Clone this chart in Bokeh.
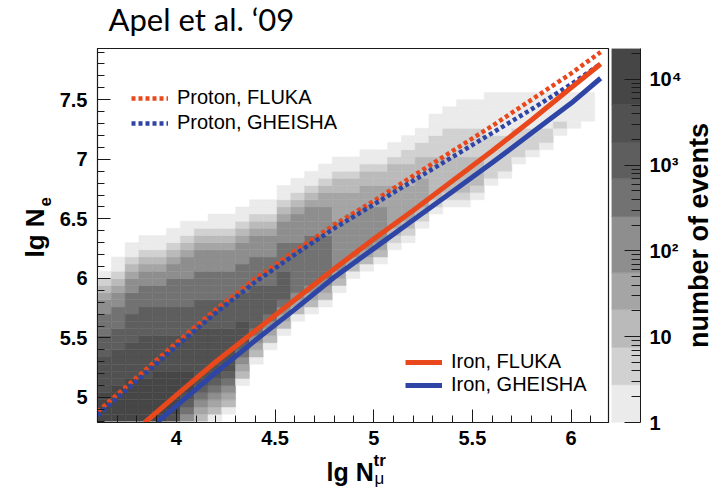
from bokeh.plotting import figure
from bokeh.layouts import row, column
from bokeh.models import (ColumnDataSource, LinearColorMapper, Legend, LegendItem, Title,
                          FixedTicker, Range1d, SingleIntervalTicker, NumeralTickFormatter,
                          CustomJSTickFormatter)
from bokeh.transform import transform
from bokeh.embed import file_html
from bokeh.resources import INLINE

# ---------------- data ----------------
# 2D histogram binning (lg N_mu^tr columns, lg N_e rows)
x_start, x_width = 3.60, 0.07
y_start, y_width = 4.80, 0.06
# each column: (first filled row, band level per row from bottom; 0 = empty, 1..9 = colour band)
hist_columns = [
    (0, "999988888777666554321"),
    (0, "99999888887776665543211"),
    (0, "9999998888877776665543211"),
    (0, "99999988888877776665543211"),
    (0, "99999998888877776665543211"),
    (0, "899999988888777766665543211"),
    (0, "5678999888887777666655543211"),
    (0, "3456788888888777766665554321"),
    (0, "13456788888887777666655543211"),
    (1, "1345678888887777666655543211"),
    (5, "1345678887777666655543211"),
    (8, "13456777777666655543211"),
    (10, "134567777666655543211"),
    (12, "134567777666655543211"),
    (14, "13456666666555543211"),
    (15, "13456666666555543211"),
    (16, "13456666665555443211"),
    (18, "1345555555444433211"),
    (20, "13455555544433211"),
    (21, "13455555544433211"),
    (22, "1345555544433211"),
    (24, "123444444333211"),
    (25, "123444443332211"),
    (27, "12344443332211"),
    (29, "12333333222111"),
    (30, "12333332222111"),
    (30, "123333322221111"),
    (31, "12333322221111"),
    (33, "1222222111111"),
    (34, "122222111111"),
    (36, "1222211111"),
    (37, "122211111"),
    (38, "12211111"),
    (40, "121111"),
    (41, "11111"),
    (42, "1111"),
]
# number-of-events bands of the colour scale (edges) and their grey shades
band_edges = [1, 2.75, 7.5, 20.7, 55.6, 251, 692, 1862, 5070, 22900]
band_colors = ["#ebebeb", "#d1d1d1", "#bababa", "#a5a5a5", "#8e8e8e",
               "#727272", "#5e5e5e", "#515151", "#464646"]
cbar_major = [1, 10, 100, 1000, 10000]
cbar_labels = {"1": "1", "10": "10", "100": "10\u00b2", "1000": "10\u00b3", "10000": "10\u2074"}

proton_fluka_x = [3.60, 3.80, 4.00, 4.20, 4.40, 4.60, 4.80, 5.00, 5.20, 5.40, 5.60, 5.80, 6.00, 6.15]
proton_fluka_y = [4.88, 5.17, 5.46, 5.74, 6.00, 6.23, 6.45, 6.65, 6.86, 7.07, 7.28, 7.50, 7.72, 7.90]
proton_gheisha_x = [3.60, 3.80, 4.00, 4.20, 4.40, 4.60, 4.80, 5.00, 5.20, 5.40, 5.60, 5.80, 6.00, 6.15]
proton_gheisha_y = [4.85, 5.14, 5.43, 5.71, 5.97, 6.20, 6.42, 6.62, 6.82, 7.02, 7.22, 7.42, 7.63, 7.80]
iron_fluka_x = [3.84, 4.00, 4.20, 4.40, 4.60, 4.80, 5.00, 5.20, 5.40, 5.60, 5.80, 6.00, 6.15]
iron_fluka_y = [4.79, 5.02, 5.30, 5.56, 5.82, 6.08, 6.33, 6.57, 6.82, 7.07, 7.33, 7.60, 7.80]
iron_gheisha_x = [3.90, 4.00, 4.20, 4.40, 4.60, 4.80, 5.00, 5.20, 5.40, 5.60, 5.80, 6.00, 6.15]
iron_gheisha_y = [4.79, 4.93, 5.21, 5.48, 5.74, 6.01, 6.25, 6.49, 6.73, 6.97, 7.22, 7.47, 7.68]

ORANGE = "#e9481c"
BLUE = "#2f45a6"
FONT = "Liberation Sans"
TOP_H = 40          # height of the strip that carries the page title
FIG_H = 496 - TOP_H

# ---------------- histogram cells ----------------
left, right, bottom, top, lvl = [], [], [], [], []
for c, (r0, s) in enumerate(hist_columns):
    for i, ch in enumerate(s):
        k = int(ch)
        if k == 0:
            continue
        r = r0 + i
        left.append(x_start + c * x_width)
        right.append(x_start + (c + 1) * x_width)
        bottom.append(y_start + r * y_width)
        top.append(y_start + (r + 1) * y_width)
        lvl.append(k)
hsrc = ColumnDataSource(dict(left=left, right=right, bottom=bottom, top=top, lvl=lvl))
mapper = LinearColorMapper(palette=band_colors, low=0.5, high=len(band_colors) + 0.5)

def bare(fig):
    fig.axis.visible = False
    fig.grid.visible = False
    fig.outline_line_color = None

# ---------------- title strip ----------------
tt = figure(width=714, height=TOP_H, x_range=Range1d(0, 1), y_range=Range1d(0, 1),
            title="Apel et al. \u201809", title_location="below",
            output_backend="svg", toolbar_location=None,
            min_border_left=97, min_border_right=0, min_border_top=0, min_border_bottom=TOP_H - 1,
            background_fill_color="white", border_fill_color="white")
bare(tt)
tt.title.align = "left"
tt.title.offset = 11
tt.title.vertical_align = "top"
tt.title.standoff = -3.2
tt.title.text_font = "Lato"
tt.title.text_font_size = "31px"
tt.title.text_font_style = "normal"
tt.title.text_color = "black"

# ---------------- main figure ----------------
p = figure(width=610, height=FIG_H, x_range=Range1d(3.6, 6.19), y_range=Range1d(4.79, 7.93),
           output_backend="svg", toolbar_location=None,
           min_border_left=97, min_border_right=2, min_border_top=48 - TOP_H, min_border_bottom=74,
           background_fill_color="white", border_fill_color="white")
p.grid.visible = False
p.outline_line_color = "#1a1a1a"
p.outline_line_width = 1.2

p.quad(source=hsrc, left="left", right="right", bottom="bottom", top="top",
       fill_color=transform("lvl", mapper), line_color=transform("lvl", mapper), line_width=0.5)

r_pf = p.line(proton_fluka_x, proton_fluka_y, line_color=ORANGE, line_width=4.5, line_dash="4 3")
r_pg = p.line(proton_gheisha_x, proton_gheisha_y, line_color=BLUE, line_width=4.5, line_dash="4 3")
r_if = p.line(iron_fluka_x, iron_fluka_y, line_color=ORANGE, line_width=5)
r_ig = p.line(iron_gheisha_x, iron_gheisha_y, line_color=BLUE, line_width=5)

for ax in (p.xaxis[0], p.yaxis[0]):
    ax.ticker = SingleIntervalTicker(interval=0.5, num_minor_ticks=5)
    ax.formatter = NumeralTickFormatter(format="0.[0]")
    ax.major_tick_in = 13
    ax.major_tick_out = 0
    ax.minor_tick_in = 7
    ax.minor_tick_out = 0
    ax.axis_line_color = "#1a1a1a"
    ax.major_tick_line_color = "#1a1a1a"
    ax.minor_tick_line_color = "#1a1a1a"
    ax.major_label_text_font = FONT
    ax.major_label_text_font_style = "bold"
    ax.major_label_text_font_size = "20px"
    ax.major_label_text_color = "black"
p.xaxis.major_label_standoff = 8
p.yaxis.major_label_standoff = 10

leg1 = Legend(items=[LegendItem(label="Proton, FLUKA", renderers=[r_pf]),
                     LegendItem(label="Proton, GHEISHA", renderers=[r_pg])],
              location=(34, 288))
leg2 = Legend(items=[LegendItem(label="Iron, FLUKA", renderers=[r_if]),
                     LegendItem(label="Iron, GHEISHA", renderers=[r_ig])],
              location=(308, 26))
for lg, sp in ((leg1, 2), (leg2, 0)):
    lg.label_text_font = FONT
    lg.label_text_font_size = "20px"
    lg.label_text_color = "black"
    lg.glyph_width = 37
    lg.glyph_height = 20
    lg.label_height = 20
    lg.label_standoff = 9
    lg.spacing = sp
    lg.padding = 0
    lg.margin = 0
    lg.background_fill_alpha = 0
    lg.border_line_alpha = 0
    p.add_layout(lg)

def side_title(fig, side, text, offset, size, valign, standoff, style="bold", align="left"):
    fig.add_layout(Title(text=text, align=align, offset=offset, vertical_align=valign,
                         standoff=standoff, text_font=FONT, text_font_size=size,
                         text_font_style=style, text_color="black"), side)

# y axis title: lg N_e  (subscript panel first, nearest the axis)
side_title(p, "left", "e", 216, "17px", "top", 7.2)
side_title(p, "left", "lg N", 165, "26px", "bottom", -29.6)
# x axis title: lg N_mu^tr
side_title(p, "below", "tr", 276, "17px", "bottom", 2.6)
side_title(p, "below", "lg N", 229, "25px", "top", -27.8)
side_title(p, "below", "\u03bc", 277, "17px", "top", -9.4, style="normal")

# ---------------- colour scale ----------------
cb = figure(width=74, height=FIG_H, x_range=Range1d(0, 1), y_range=Range1d(1, 22900),
            y_axis_type="log", y_axis_location="right",
            output_backend="svg", toolbar_location=None,
            min_border_left=1, min_border_right=41, min_border_top=48 - TOP_H, min_border_bottom=74,
            background_fill_color="white", border_fill_color="white")
cb.grid.visible = False
cb.xaxis.visible = False
cb.outline_line_color = None
csrc = ColumnDataSource(dict(bottom=band_edges[:-1], top=band_edges[1:], color=band_colors))
cb.quad(source=csrc, left=0, right=1, bottom="bottom", top="top",
        fill_color="color", line_color="color", line_width=0.5)
cax = cb.yaxis[0]
cax.ticker = FixedTicker(ticks=cbar_major,
                         minor_ticks=[m * 10 ** e for e in range(5) for m in range(2, 10)])
cax.formatter = CustomJSTickFormatter(args=dict(names=cbar_labels), code="""
    const key = String(Math.round(tick));
    const s = (names instanceof Map) ? names.get(key) : names[key];
    return s == null ? "" : s;
""")
cax.major_tick_in = 16
cax.major_tick_out = 0
cax.minor_tick_in = 9
cax.minor_tick_out = 0
cax.axis_line_color = "#1a1a1a"
cax.major_tick_line_color = "#1a1a1a"
cax.minor_tick_line_color = "#1a1a1a"
cax.major_label_text_font = FONT
cax.major_label_text_font_style = "bold"
cax.major_label_text_font_size = "20px"
cax.major_label_text_color = "black"
cax.major_label_standoff = 9

# colour-scale title, reading bottom to top
tf = figure(width=30, height=FIG_H, x_range=Range1d(0, 1), y_range=Range1d(0, 1),
            title="number of events", title_location="left",
            output_backend="svg", toolbar_location=None,
            min_border_left=24, min_border_right=0, min_border_top=48 - TOP_H, min_border_bottom=74,
            background_fill_color="white", border_fill_color="white")
bare(tf)
tf.title.align = "center"
tf.title.vertical_align = "bottom"
tf.title.standoff = -11
tf.title.text_font = FONT
tf.title.text_font_size = "27px"
tf.title.text_font_style = "bold"
tf.title.text_color = "black"

layout = column(tt, row(p, cb, tf))
open("out.html", "w").write(file_html(layout, INLINE))
